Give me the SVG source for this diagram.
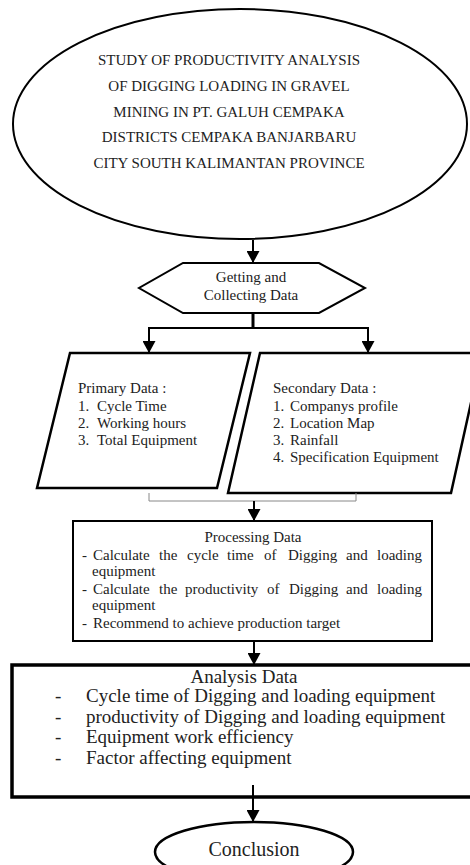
<svg xmlns="http://www.w3.org/2000/svg" width="470" height="865" viewBox="0 0 470 865">
<defs>
<style>
text{font-family:"Liberation Serif","Times New Roman",serif;fill:#222}
.shape{fill:#fff;stroke:#000}
.c{text-anchor:middle}
.conn{stroke:#000;fill:none}
.t15{font-size:15px}
.t19{font-size:19px}
.t20{font-size:20px}
</style>
<marker id="ah" markerUnits="userSpaceOnUse" markerWidth="13" markerHeight="13" refX="12" refY="6.5" orient="auto">
<path d="M0,0 L12,6.5 L0,13 z" fill="#000"/>
</marker>
</defs>
<rect width="470" height="865" fill="#fff"/>
<g id="title">
<ellipse class="shape" cx="240" cy="124" rx="227" ry="115" stroke-width="2"/>
<text class="c t15" x="229" y="65">STUDY OF PRODUCTIVITY ANALYSIS</text>
<text class="c t15" x="229" y="91">OF DIGGING LOADING IN GRAVEL</text>
<text class="c t15" x="229" y="117">MINING IN PT. GALUH CEMPAKA</text>
<text class="c t15" x="229" y="142">DISTRICTS CEMPAKA BANJARBARU</text>
<text class="c t15" x="229" y="168">CITY SOUTH KALIMANTAN PROVINCE</text>
</g>
<g id="collect">
<polygon class="shape" points="183,263 319,263 365,288 319,313 183,313 139,288" stroke-width="2"/>
<text class="c t15" x="251" y="282">Getting and</text>
<text class="c t15" x="251" y="300">Collecting Data</text>
</g>
<g id="primary">
<polygon class="shape" points="70,353 250,353 217,488 37,488" stroke-width="2.5"/>
<text class="t15" x="78" y="393">Primary Data :</text>
<text class="t15" x="78" y="411">1.<tspan x="97">Cycle Time</tspan></text>
<text class="t15" x="78" y="428">2.<tspan x="97">Working hours</tspan></text>
<text class="t15" x="78" y="445">3.<tspan x="97">Total Equipment</tspan></text>
</g>
<g id="secondary">
<polygon class="shape" points="260,353 482,353 451,493 228,493" stroke-width="2.5"/>
<text class="t15" x="273" y="393">Secondary Data :</text>
<text class="t15" x="273" y="411">1.<tspan x="290">Companys profile</tspan></text>
<text class="t15" x="273" y="428">2.<tspan x="290">Location Map</tspan></text>
<text class="t15" x="273" y="445">3.<tspan x="290">Rainfall</tspan></text>
<text class="t15" x="273" y="462">4.<tspan x="290">Specification Equipment</tspan></text>
</g>
<g id="processing">
<rect class="shape" x="73" y="521" width="359" height="120" stroke-width="2"/>
<text class="c t15" x="253" y="542">Processing Data</text>
<text class="t15" y="560"><tspan x="82">-</tspan><tspan x="93">Calculate</tspan><tspan x="159">the</tspan><tspan x="187">cycle</tspan><tspan x="227">time</tspan><tspan x="264">of</tspan><tspan x="288">Digging</tspan><tspan x="346">and</tspan><tspan x="377">loading</tspan></text>
<text class="t15" x="92" y="576">equipment</text>
<text class="t15" y="594"><tspan x="82">-</tspan><tspan x="93">Calculate</tspan><tspan x="159">the</tspan><tspan x="185">productivity</tspan><tspan x="267">of</tspan><tspan x="289">Digging</tspan><tspan x="346">and</tspan><tspan x="377">loading</tspan></text>
<text class="t15" x="92" y="610">equipment</text>
<text class="t15" y="628"><tspan x="82">-</tspan><tspan x="93">Recommend to achieve production target</tspan></text>
</g>
<g id="analysis">
<rect class="shape" x="12" y="665" width="462" height="132" stroke-width="3.5"/>
<text class="c t19" x="244" y="683">Analysis Data</text>
<text class="t19" y="702"><tspan x="55">-</tspan><tspan x="86">Cycle time of Digging and loading equipment</tspan></text>
<text class="t19" y="723"><tspan x="55">-</tspan><tspan x="86">productivity of Digging and loading equipment</tspan></text>
<text class="t19" y="743"><tspan x="55">-</tspan><tspan x="86">Equipment work efficiency</tspan></text>
<text class="t19" y="764"><tspan x="55">-</tspan><tspan x="86">Factor affecting equipment</tspan></text>
</g>
<g id="conclusion">
<ellipse class="shape" cx="254" cy="852" rx="99" ry="30" stroke-width="2.5"/>
<text class="c t20" x="254" y="856">Conclusion</text>
</g>
<g id="connectors">
<line class="conn" x1="253" y1="240" x2="253" y2="263" stroke-width="2" marker-end="url(#ah)"/>
<line class="conn" x1="253" y1="313" x2="253" y2="328" stroke-width="3"/>
<polyline class="conn" points="149,340 149,328 368,328 368,340" stroke-width="2"/>
<line class="conn" x1="149" y1="338" x2="149" y2="353" stroke-width="2" marker-end="url(#ah)"/>
<line class="conn" x1="368" y1="338" x2="368" y2="353" stroke-width="2" marker-end="url(#ah)"/>
<polyline points="149,493 149,501 356,501 356,493" fill="none" stroke="#888" stroke-width="1"/>
<line class="conn" x1="254" y1="501" x2="254" y2="521" stroke-width="2" marker-end="url(#ah)"/>
<line class="conn" x1="254" y1="641" x2="254" y2="665" stroke-width="2" marker-end="url(#ah)"/>
<line class="conn" x1="253" y1="785" x2="253" y2="822" stroke-width="2" marker-end="url(#ah)"/>
</g>
</svg>
